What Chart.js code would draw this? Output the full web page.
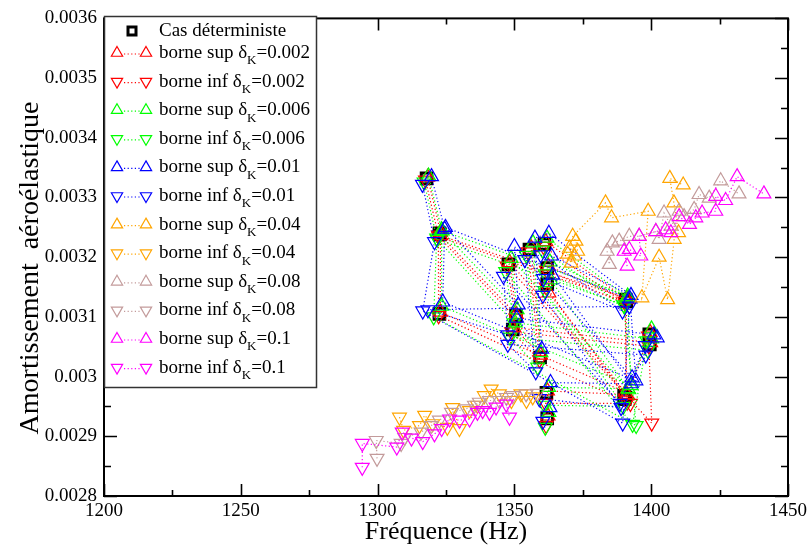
<!DOCTYPE html>
<html>
<head>
<meta charset="utf-8">
<title>Amortissement aéroélastique</title>
<script src="https://cdn.jsdelivr.net/npm/chart.js@4.4.0/dist/chart.umd.min.js"></script>
<style>
  html, body { margin: 0; padding: 0; background: #fff; }
  #wrap { width: 811px; height: 548px; }
</style>
</head>
<body>
<div id="wrap"><canvas id="chart" width="811" height="548"></canvas></div>
<script>
// Axis ticks
const xTicks = [1200, 1250, 1300, 1350, 1400, 1450];
const yTicks = [0.0028, 0.0029, 0.0030, 0.0031, 0.0032, 0.0033, 0.0034, 0.0035, 0.0036];

// Cas déterministe
const detFreq = [1317.9, 1322.6, 1322.6, 1390.1, 1390.7, 1322.8, 1350.6, 1347.8, 1390.3, 1399.3, 1399.5, 1349.4, 1359.4, 1355.5, 1361.0, 1390.9, 1362.0, 1362.0, 1390.5, 1361.7, 1362.0];
const detDamp = [0.003332, 0.003240, 0.003105, 0.002968, 0.003129, 0.003238, 0.003102, 0.003188, 0.002962, 0.003071, 0.003054, 0.003079, 0.003032, 0.003213, 0.003222, 0.003126, 0.003182, 0.003155, 0.002965, 0.002973, 0.002930];

// delta K = 0.002
const sup002Freq = [1318.3, 1323.0, 1322.9, 1390.6, 1391.0, 1323.1, 1350.7, 1348.3, 1391.4, 1399.6, 1399.8, 1349.8, 1359.6, 1356.1, 1361.5, 1391.2, 1362.4, 1362.6, 1391.0, 1362.1, 1362.3];
const sup002Damp = [0.003334, 0.003242, 0.003108, 0.002974, 0.003131, 0.003236, 0.003104, 0.003191, 0.002968, 0.003074, 0.003057, 0.003082, 0.003036, 0.003216, 0.003226, 0.003129, 0.003185, 0.003140, 0.002970, 0.002976, 0.002934];
const inf002Freq = [1317.5, 1322.2, 1322.3, 1391.2, 1390.4, 1322.4, 1350.5, 1347.3, 1400.2, 1399.0, 1399.2, 1349.0, 1359.2, 1355.0, 1360.6, 1390.6, 1361.7, 1361.6, 1392.4, 1361.4, 1361.6];
const inf002Damp = [0.003329, 0.003237, 0.003102, 0.002957, 0.003126, 0.003234, 0.003098, 0.003185, 0.002922, 0.003068, 0.003051, 0.003075, 0.003028, 0.003209, 0.003218, 0.003122, 0.003178, 0.003150, 0.002955, 0.002955, 0.002918];

// delta K = 0.006
const sup006Freq = [1318.6, 1323.4, 1323.4, 1392.6, 1391.4, 1323.6, 1351.0, 1348.8, 1391.8, 1400.1, 1400.2, 1350.3, 1359.7, 1356.8, 1361.9, 1391.6, 1363.0, 1363.2, 1391.5, 1362.5, 1362.6];
const sup006Damp = [0.003336, 0.003246, 0.003118, 0.002985, 0.003135, 0.003244, 0.003112, 0.003198, 0.002978, 0.003080, 0.003063, 0.003090, 0.003040, 0.003224, 0.003232, 0.003132, 0.003192, 0.003162, 0.002980, 0.002982, 0.002940];
const inf006Freq = [1317.0, 1321.6, 1320.5, 1394.5, 1390.0, 1321.8, 1349.8, 1346.8, 1393.2, 1398.4, 1398.8, 1348.4, 1358.5, 1354.4, 1360.2, 1390.2, 1361.3, 1361.2, 1389.8, 1361.0, 1361.3];
const inf006Damp = [0.003326, 0.003232, 0.003100, 0.002918, 0.003120, 0.003230, 0.003090, 0.003176, 0.002920, 0.003060, 0.003044, 0.003066, 0.003016, 0.003203, 0.003212, 0.003118, 0.003172, 0.003144, 0.002950, 0.002952, 0.002915];

// delta K = 0.01
const sup01Freq = [1319.7, 1324.5, 1323.8, 1394.4, 1392.3, 1324.8, 1351.4, 1350.0, 1393.0, 1402.2, 1401.0, 1350.8, 1360.0, 1357.5, 1362.6, 1392.6, 1363.6, 1364.0, 1392.8, 1363.2, 1363.0];
const sup01Damp = [0.003335, 0.003247, 0.003125, 0.002993, 0.003130, 0.003250, 0.003120, 0.003218, 0.002998, 0.003065, 0.003070, 0.003098, 0.003046, 0.003232, 0.003240, 0.003136, 0.003202, 0.003170, 0.002988, 0.002990, 0.002948];
const inf01Freq = [1316.4, 1320.8, 1316.5, 1389.6, 1392.0, 1318.4, 1347.6, 1346.0, 1388.6, 1397.8, 1398.0, 1347.6, 1357.8, 1353.8, 1359.6, 1389.5, 1360.6, 1360.4, 1389.0, 1359.1, 1360.4];
const inf01Damp = [0.003322, 0.003226, 0.003110, 0.002922, 0.003118, 0.003112, 0.003070, 0.003168, 0.002955, 0.003052, 0.003036, 0.003054, 0.003008, 0.003196, 0.003204, 0.003110, 0.003164, 0.003136, 0.002948, 0.002963, 0.002925];

// delta K = 0.04
const sup04Freq = [1369.5, 1370.7, 1371.9, 1370.1, 1373.1, 1372.5, 1371.3, 1383.3, 1385.5, 1398.9, 1396.6, 1402.9, 1406.0, 1408.4, 1410.0, 1408.3, 1406.8, 1411.7];
const sup04Damp = [0.003205, 0.003190, 0.003202, 0.003215, 0.003210, 0.003227, 0.003235, 0.003291, 0.003266, 0.003277, 0.003132, 0.003200, 0.003129, 0.003230, 0.003241, 0.003291, 0.003332, 0.003321];
const inf04Freq = [1308.0, 1309.5, 1315.3, 1317.2, 1320.1, 1325.5, 1327.4, 1329.9, 1333.6, 1336.5, 1339.0, 1341.5, 1344.5, 1348.9, 1352.4, 1354.4, 1356.7];
const inf04Damp = [0.002932, 0.002910, 0.002918, 0.002935, 0.002921, 0.002915, 0.002948, 0.002913, 0.002943, 0.002952, 0.002968, 0.002979, 0.002971, 0.002960, 0.002971, 0.002960, 0.002966];

// delta K = 0.08
const sup08Freq = [1383.9, 1384.7, 1385.8, 1388.3, 1392.0, 1395.6, 1401.7, 1402.9, 1404.7, 1407.3, 1410.2, 1412.0, 1415.7, 1417.5, 1421.2, 1425.4, 1432.1];
const sup08Damp = [0.003210, 0.003188, 0.003224, 0.003227, 0.003235, 0.003235, 0.003243, 0.003230, 0.003274, 0.003252, 0.003277, 0.003268, 0.003280, 0.003305, 0.003299, 0.003328, 0.003306];
const inf08Freq = [1299.8, 1299.5, 1308.6, 1309.9, 1315.9, 1319.6, 1322.6, 1327.0, 1332.4, 1335.4, 1337.2, 1340.9, 1344.5, 1347.1, 1349.4, 1354.3, 1358.4];
const inf08Damp = [0.002863, 0.002893, 0.002888, 0.002898, 0.002907, 0.002918, 0.002927, 0.002940, 0.002946, 0.002952, 0.002957, 0.002960, 0.002960, 0.002965, 0.002968, 0.002971, 0.002972];

// delta K = 0.1
const sup1Freq = [1391.2, 1390.1, 1392.0, 1396.2, 1395.6, 1401.7, 1405.3, 1407.2, 1410.2, 1414.0, 1416.3, 1418.6, 1423.6, 1423.6, 1427.2, 1431.4, 1441.2];
const sup1Damp = [0.003185, 0.003210, 0.003213, 0.003202, 0.003235, 0.003243, 0.003246, 0.003241, 0.003268, 0.003255, 0.003266, 0.003274, 0.003277, 0.003302, 0.003295, 0.003335, 0.003306];
const inf1Freq = [1294.4, 1294.4, 1307.0, 1309.0, 1312.4, 1316.5, 1320.8, 1323.4, 1326.3, 1329.9, 1333.6, 1336.5, 1338.4, 1340.9, 1343.3, 1347.0, 1348.2];
const inf1Damp = [0.002848, 0.002888, 0.002882, 0.002907, 0.002897, 0.002891, 0.002904, 0.002913, 0.002929, 0.002927, 0.002929, 0.002940, 0.002943, 0.002940, 0.002949, 0.002954, 0.002932];

const seriesList = [
    { bound: 'sup', delta: '0.002', color: '#ff0000', freq: sup002Freq, damp: sup002Damp },
    { bound: 'inf', delta: '0.002', color: '#ff0000', freq: inf002Freq, damp: inf002Damp },
    { bound: 'sup', delta: '0.006', color: '#00ff00', freq: sup006Freq, damp: sup006Damp },
    { bound: 'inf', delta: '0.006', color: '#00ff00', freq: inf006Freq, damp: inf006Damp },
    { bound: 'sup', delta: '0.01', color: '#0000ff', freq: sup01Freq, damp: sup01Damp },
    { bound: 'inf', delta: '0.01', color: '#0000ff', freq: inf01Freq, damp: inf01Damp },
    { bound: 'sup', delta: '0.04', color: '#ffa500', freq: sup04Freq, damp: sup04Damp },
    { bound: 'inf', delta: '0.04', color: '#ffa500', freq: inf04Freq, damp: inf04Damp },
    { bound: 'sup', delta: '0.08', color: '#c39b9b', freq: sup08Freq, damp: sup08Damp },
    { bound: 'inf', delta: '0.08', color: '#c39b9b', freq: inf08Freq, damp: inf08Damp },
    { bound: 'sup', delta: '0.1', color: '#ff00ff', freq: sup1Freq, damp: sup1Damp },
    { bound: 'inf', delta: '0.1', color: '#ff00ff', freq: inf1Freq, damp: inf1Damp }
];

const serif = '"Liberation Serif", "DejaVu Serif", serif';
const yTitle = 'Amortissement  aéroélastique';

function toPoints(freq, damp) {
    return freq.map((f, i) => ({ x: f, y: damp[i] }));
}

// Build datasets (later series drawn on top, like the original plot)
const datasets = [{
    label: 'Cas déterministe',
    data: toPoints(detFreq, detDamp),
    showLine: false,
    pointStyle: 'rect',
    pointRadius: 7.5,
    pointBorderWidth: 3,
    pointBorderColor: '#000',
    pointBackgroundColor: 'rgba(0,0,0,0)',
    order: 20
}];
seriesList.forEach((s, i) => {
    datasets.push({
        label: 'borne ' + s.bound + ' δK=' + s.delta,
        data: toPoints(s.freq, s.damp),
        showLine: true,
        borderColor: s.color,
        borderWidth: 1.2,
        borderDash: [1.2, 2.4],
        pointStyle: 'triangle',
        pointRotation: s.bound === 'inf' ? 180 : 0,
        pointRadius: 8,
        pointBorderWidth: 1.2,
        pointBorderColor: s.color,
        pointBackgroundColor: 'rgba(0,0,0,0)',
        order: 12 - i
    });
});

function minorValues(ticks) {
    const out = [];
    for (let i = 0; i < ticks.length - 1; i++) out.push((ticks[i] + ticks[i + 1]) / 2);
    return out;
}

// Frame with inward ticks on all four sides, plus the vertical axis title
const framePlugin = {
    id: 'frame',
    afterDatasetsDraw(chart) {
        const ctx = chart.ctx;
        const a = chart.chartArea;
        const xs = chart.scales.x, ys = chart.scales.y;
        ctx.save();
        ctx.strokeStyle = '#000';
        ctx.lineWidth = 1.6;
        ctx.beginPath();
        xTicks.forEach(v => {
            const px = Math.round(xs.getPixelForValue(v)) + 0.5;
            ctx.moveTo(px, a.bottom); ctx.lineTo(px, a.bottom - 12);
            ctx.moveTo(px, a.top); ctx.lineTo(px, a.top + 12);
        });
        minorValues(xTicks).forEach(v => {
            const px = Math.round(xs.getPixelForValue(v)) + 0.5;
            ctx.moveTo(px, a.bottom); ctx.lineTo(px, a.bottom - 6);
            ctx.moveTo(px, a.top); ctx.lineTo(px, a.top + 6);
        });
        yTicks.forEach(v => {
            const py = Math.round(ys.getPixelForValue(v)) + 0.5;
            ctx.moveTo(a.left, py); ctx.lineTo(a.left + 13, py);
            ctx.moveTo(a.right, py); ctx.lineTo(a.right - 13, py);
        });
        minorValues(yTicks).forEach(v => {
            const py = Math.round(ys.getPixelForValue(v)) + 0.5;
            ctx.moveTo(a.left, py); ctx.lineTo(a.left + 7, py);
            ctx.moveTo(a.right, py); ctx.lineTo(a.right - 7, py);
        });
        ctx.stroke();
        ctx.lineWidth = 2;
        ctx.strokeRect(a.left, a.top, a.right - a.left, a.bottom - a.top);

        // y axis title, a bit below the axis centre as in the original
        ctx.translate(31, 268);
        ctx.rotate(-Math.PI / 2);
        ctx.fillStyle = '#000';
        ctx.font = '28px ' + serif;
        ctx.textAlign = 'center';
        ctx.textBaseline = 'middle';
        ctx.fillText(yTitle, 0, 0);
        ctx.restore();
    }
};

function drawTri(ctx, x, y, r, down) {
    const s = down ? -1 : 1;
    ctx.beginPath();
    ctx.moveTo(x, y - s * r);
    ctx.lineTo(x + r * 0.866, y + s * r * 0.5);
    ctx.lineTo(x - r * 0.866, y + s * r * 0.5);
    ctx.closePath();
    ctx.stroke();
}

// Legend box drawn inside the plot, top-left
const legendPlugin = {
    id: 'xmLegend',
    afterDraw(chart) {
        const ctx = chart.ctx;
        const box = { left: 104, top: 16, right: 317, bottom: 388 };
        ctx.save();
        ctx.fillStyle = '#fff';
        ctx.fillRect(box.left, box.top, box.right - box.left, box.bottom - box.top);
        ctx.strokeStyle = '#333';
        ctx.lineWidth = 1.5;
        ctx.strokeRect(box.left + 0.5, box.top + 0.5, box.right - box.left - 1, box.bottom - box.top - 1);

        ctx.fillStyle = '#000';
        ctx.textBaseline = 'middle';
        ctx.textAlign = 'left';
        const textX = 159;

        // deterministic row
        ctx.strokeStyle = '#000';
        ctx.lineWidth = 3;
        ctx.strokeRect(128, 27, 8, 8);
        ctx.font = '19px ' + serif;
        ctx.fillText('Cas déterministe', textX, 31);

        seriesList.forEach((s, i) => {
            const y = 53 + i * 28.6;
            ctx.strokeStyle = s.color;
            ctx.lineWidth = 1.2;
            drawTri(ctx, 117, y, 6.5, s.bound === 'inf');
            drawTri(ctx, 146, y, 6.5, s.bound === 'inf');
            ctx.setLineDash([1.2, 2.4]);
            ctx.beginPath();
            ctx.moveTo(124, y + 1); ctx.lineTo(140, y + 1);
            ctx.stroke();
            ctx.setLineDash([]);

            ctx.fillStyle = '#000';
            ctx.font = '19px ' + serif;
            const head = 'borne ' + s.bound + ' δ';
            ctx.fillText(head, textX, y);
            let w = ctx.measureText(head).width;
            ctx.font = '13px ' + serif;
            ctx.fillText('K', textX + w, y + 8);
            w += ctx.measureText('K').width;
            ctx.font = '19px ' + serif;
            ctx.fillText('=' + s.delta, textX + w, y);
        });
        ctx.restore();
    }
};

Chart.defaults.color = '#000';
Chart.defaults.font.family = serif;

new Chart(document.getElementById('chart'), {
    type: 'scatter',
    data: { datasets: datasets },
    options: {
        responsive: false,
        animation: false,
        events: [],
        layout: { padding: { top: 16, right: 22, left: 0, bottom: 0 } },
        plugins: {
            legend: { display: false },
            tooltip: { enabled: false }
        },
        scales: {
            x: {
                type: 'linear',
                min: 1200,
                max: 1450,
                afterBuildTicks: scale => { scale.ticks = xTicks.map(v => ({ value: v })); },
                afterFit: scale => { scale.height = 52; },
                grid: { display: false, drawTicks: false },
                border: { display: false },
                ticks: {
                    padding: 4,
                    font: { size: 19, family: serif },
                    color: '#000',
                    maxRotation: 0,
                    callback: v => String(v)
                },
                title: {
                    display: true,
                    text: 'Fréquence (Hz)',
                    font: { size: 26, family: serif },
                    color: '#000',
                    padding: { top: 0, bottom: 0 }
                }
            },
            y: {
                type: 'linear',
                min: 0.0028,
                max: 0.0036,
                afterBuildTicks: scale => { scale.ticks = yTicks.map(v => ({ value: v })); },
                afterFit: scale => { scale.width = 104; },
                grid: { display: false, drawTicks: false },
                border: { display: false },
                ticks: {
                    padding: 7,
                    font: { size: 19, family: serif },
                    color: '#000',
                    callback: v => Number(v.toFixed(4)).toString()
                },
                title: { display: false }
            }
        }
    },
    plugins: [framePlugin, legendPlugin]
});
</script>
</body>
</html>
